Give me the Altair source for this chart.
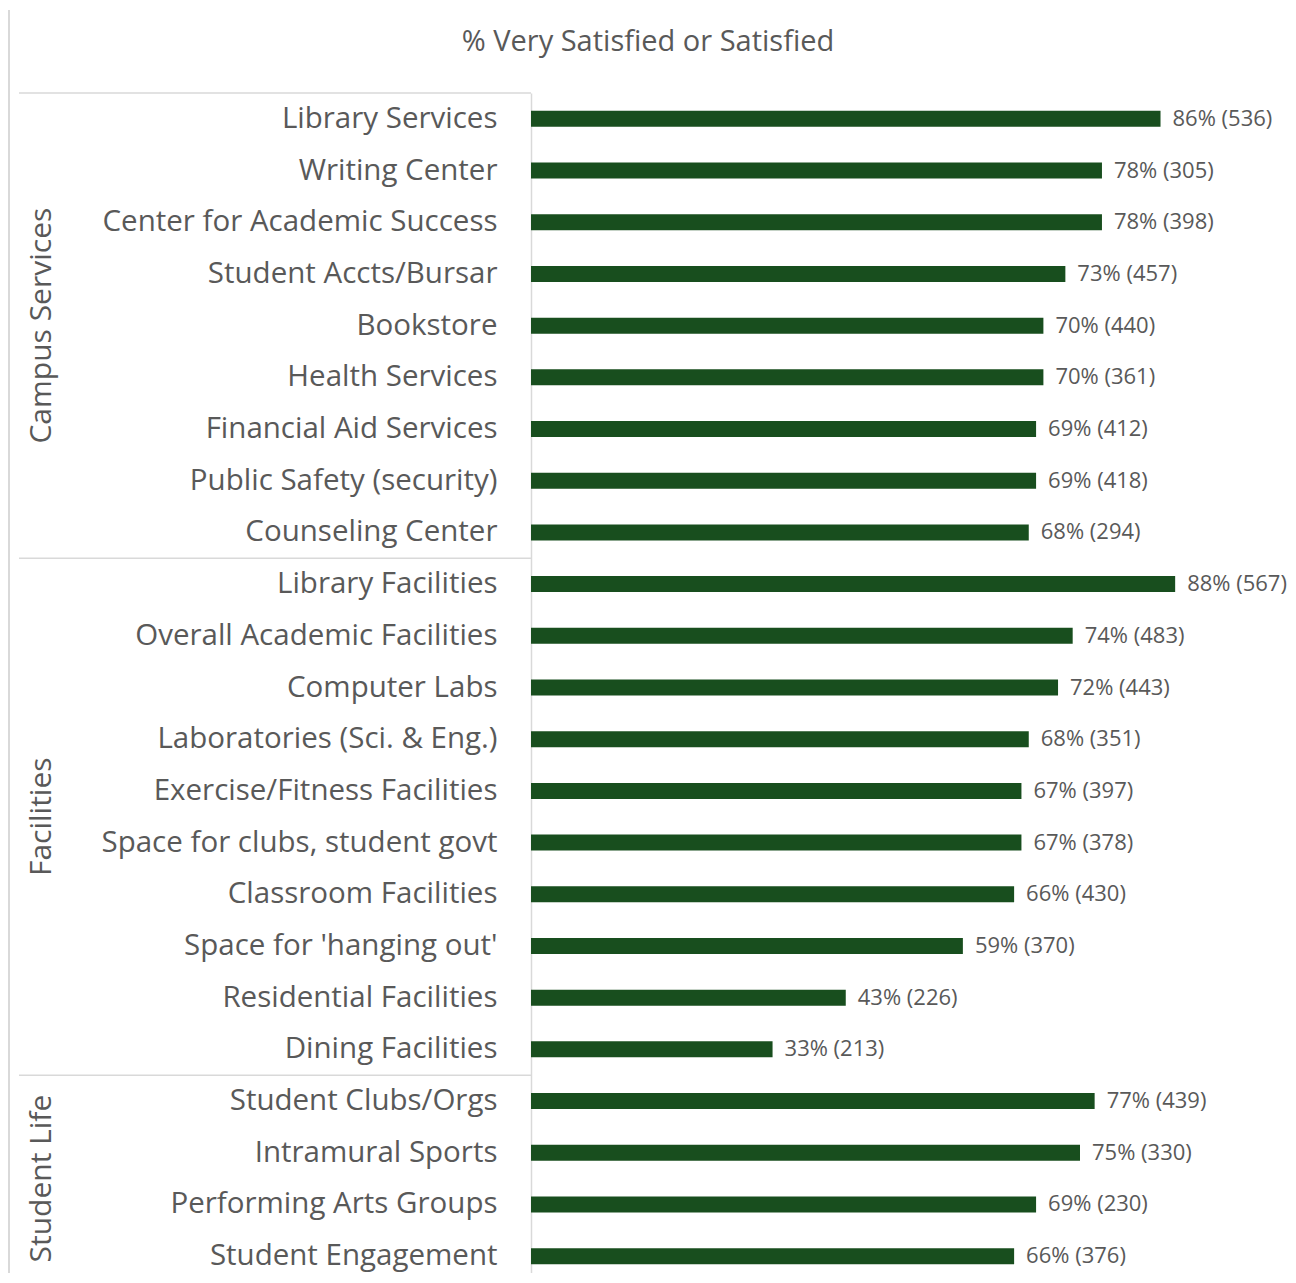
import altair as alt
import pandas as pd

TITLE = ["% Very Satisfied or Satisfied"]
GROUP_NAMES = ["Campus Services", "Facilities", "Student Life"]
GROUPS = ["Campus Services"] * 9 + ["Facilities"] * 10 + ["Student Life"] * 4
CATEGORIES = [
    "Library Services", "Writing Center", "Center for Academic Success",
    "Student Accts/Bursar", "Bookstore", "Health Services",
    "Financial Aid Services", "Public Safety (security)", "Counseling Center",
    "Library Facilities", "Overall Academic Facilities", "Computer Labs",
    "Laboratories (Sci. & Eng.)", "Exercise/Fitness Facilities",
    "Space for clubs, student govt", "Classroom Facilities",
    "Space for 'hanging out'", "Residential Facilities", "Dining Facilities",
    "Student Clubs/Orgs", "Intramural Sports", "Performing Arts Groups",
    "Student Engagement",
]
PCT = [86, 78, 78, 73, 70, 70, 69, 69, 68,
       88, 74, 72, 68, 67, 67, 66, 59, 43, 33,
       77, 75, 69, 66]
COUNTS = [536, 305, 398, 457, 440, 361, 412, 418, 294,
          567, 483, 443, 351, 397, 378, 430, 370, 226, 213,
          439, 330, 230, 376]

df = pd.DataFrame({"group": GROUPS, "cat": CATEGORIES, "pct": PCT, "n": COUNTS})
df["label"] = [f"{p}% ({c})" for p, c in zip(PCT, COUNTS)]

# first category of each group (for separators) and middle position of each group
first_cats = [df[df.group == g].cat.iloc[0] for g in GROUP_NAMES]
sep_df = pd.DataFrame({"cat": first_cats})

odd_rows, even_rows = [], []
for g in GROUP_NAMES:
    cats = df[df.group == g].cat.tolist()
    k = len(cats)
    if k % 2 == 1:
        odd_rows.append({"group": g, "cat": cats[k // 2]})
    else:
        even_rows.append({"group": g, "cat": cats[k // 2 - 1]})
odd_df = pd.DataFrame(odd_rows)
even_df = pd.DataFrame(even_rows)

FONT = "Open Sans"
GRAY = "#595959"
LINE = "#d9d9d9"
GREEN = "#184e1e"

yscale = alt.Scale(domain=CATEGORIES, range=[0, 1189], paddingInner=0, paddingOuter=0)

bars = alt.Chart(df).mark_bar(size=16, color=GREEN).encode(
    x=alt.X("pct:Q", axis=None, scale=alt.Scale(domain=[0, 100])),
    y=alt.Y("cat:N", sort=CATEGORIES, scale=yscale,
            axis=alt.Axis(title=None, ticks=False, labelPadding=34,
                          labelFont=FONT, labelFontSize=29.5, labelColor=GRAY,
                          domainColor=LINE, domainWidth=1.5, grid=False,
                          labelLimit=0)),
)

labels = alt.Chart(df).mark_text(
    align="left", baseline="middle", dx=12, font=FONT, fontSize=22, color=GRAY
).encode(
    x="pct:Q",
    y=alt.Y("cat:N", sort=CATEGORIES, scale=yscale),
    text="label:N",
)

seps = alt.Chart(sep_df).mark_rule(color=LINE, strokeWidth=1.5).encode(
    y=alt.Y("cat:N", sort=CATEGORIES, scale=yscale, bandPosition=0),
    x=alt.value(-512),
    x2=alt.value(0),
)

grp_odd = alt.Chart(odd_df).mark_text(
    angle=270, align="center", baseline="middle", font=FONT, fontSize=30, color=GRAY
).encode(
    y=alt.Y("cat:N", sort=CATEGORIES, scale=yscale, bandPosition=0.5),
    x=alt.value(-489),
    text="group:N",
)

grp_even = alt.Chart(even_df).mark_text(
    angle=270, align="center", baseline="middle", font=FONT, fontSize=30, color=GRAY
).encode(
    y=alt.Y("cat:N", sort=CATEGORIES, scale=yscale, bandPosition=1),
    x=alt.value(-489),
    text="group:N",
)

title = alt.Chart(pd.DataFrame({"t": TITLE})).mark_text(
    align="center", baseline="middle", font=FONT, fontSize=29, color=GRAY
).encode(
    x=alt.value(117),
    y=alt.value(-51),
    text="t:N",
)

border = alt.Chart(pd.DataFrame({"t": TITLE})).mark_rule(color=LINE, strokeWidth=2).encode(
    x=alt.value(-522),
    y=alt.value(-83),
    y2=alt.value(1200),
)

chart = alt.layer(border, seps, bars, labels, grp_odd, grp_even, title).properties(
    width=732,
    height=1180,
    autosize=alt.AutoSizeParams(type="none"),
    padding={"left": 523, "top": 85, "right": 25, "bottom": 0},
).configure(background="white").configure_view(stroke=None)

chart.save("out.html", embed_options={"renderer": "svg", "actions": False})
